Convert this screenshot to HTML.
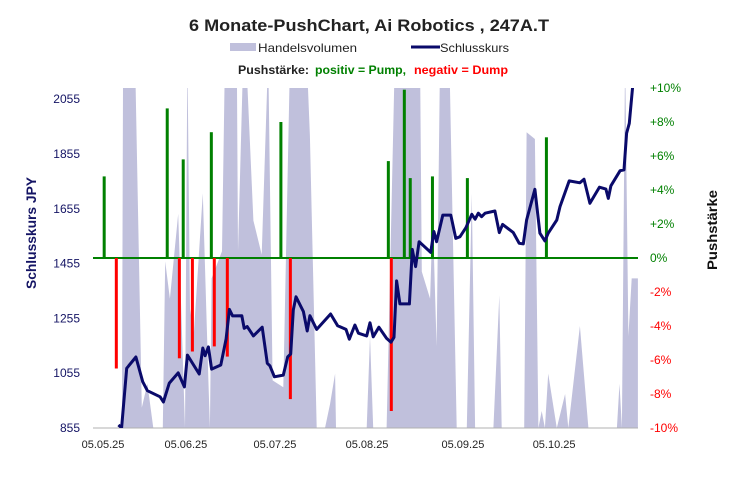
<!DOCTYPE html>
<html><head><meta charset="utf-8"><style>
html,body{margin:0;padding:0;background:#fff;}
svg{display:block;font-family:"Liberation Sans",sans-serif;}
</style></head><body>
<svg id="chart" width="734" height="480" viewBox="0 0 734 480">
<text x="369" y="31" text-anchor="middle" font-size="17" font-weight="bold" fill="#222" textLength="360" lengthAdjust="spacingAndGlyphs">6 Monate-PushChart,  Ai Robotics , 247A.T</text>
<g>
<rect x="230" y="43" width="26" height="8" fill="#c0c0dc"/>
<text x="258" y="52" font-size="12" fill="#222" textLength="99" lengthAdjust="spacingAndGlyphs">Handelsvolumen</text>
<line x1="411" y1="47" x2="440" y2="47" stroke="#0a0a6a" stroke-width="3"/>
<text x="440" y="52" font-size="12" fill="#222" textLength="69" lengthAdjust="spacingAndGlyphs">Schlusskurs</text>
<text x="238" y="74" font-size="12" font-weight="bold" fill="#222" textLength="71" lengthAdjust="spacingAndGlyphs">Pushstärke:</text>
<text x="315" y="74" font-size="12" font-weight="bold" fill="#008000" textLength="91" lengthAdjust="spacingAndGlyphs">positiv = Pump,</text>
<text x="414" y="74" font-size="12" font-weight="bold" fill="#ff0000" textLength="94" lengthAdjust="spacingAndGlyphs">negativ = Dump</text>
</g>
<defs><clipPath id="plotclip"><rect x="93" y="88" width="545" height="340"/></clipPath></defs>
<g id="vol" clip-path="url(#plotclip)"></g>
<g id="axes"></g>
<g id="bars"></g>
<g id="line" clip-path="url(#plotclip)"></g>
<text transform="translate(36,233) rotate(-90)" text-anchor="middle" font-size="14" font-weight="bold" fill="#141464" textLength="112" lengthAdjust="spacingAndGlyphs">Schlusskurs JPY</text>
<text transform="translate(717,230) rotate(-90)" text-anchor="middle" font-size="14" font-weight="bold" fill="#111" textLength="80" lengthAdjust="spacingAndGlyphs">Pushstärke</text>
</svg>
<script>
// x-axis: day offset from 05.05.25
const priceDays=[5.2,6.3,8.0,11.1,13.4,15.0,19.3,20.4,22.4,25.4,27.5,28.5,32.5,33.7,34.5,35.6,36.7,39.8,41.6,42.7,43.8,46.9,47.7,48.7,50.8,53.8,55.5,56.4,57.9,60.9,62.4,63.4,64.3,65.2,67.7,69.0,69.9,72.2,76.9,79.3,82.1,83.2,85.1,86.3,89.1,90.2,91.3,93.2,95.8,97.3,98.3,99.2,100.3,103.5,104.5,105.6,106.8,110.7,111.8,112.7,114.8,117.5,119.2,120.6,122.6,124.6,125.7,126.8,127.9,129.1,132.4,133.9,135.0,138.6,140.6,142.0,143.1,145.9,147.6,149.3,150.4,153.3,154.4,157.5,161.1,162.5,164.5,167.7,169.9,170.7,171.6,174.7,176.0,176.9,177.8,178.9,179.5];
const priceValues=[866,856,1073,1114,1024,991,969,950,1019,1056,1005,1121,1052,1147,1119,1151,1070,1085,1180,1288,1264,1265,1219,1225,1191,1223,1091,1082,1042,1048,1115,1125,1286,1334,1280,1209,1265,1215,1271,1228,1215,1179,1231,1201,1191,1239,1188,1223,1182,1168,1186,1392,1308,1308,1507,1444,1535,1496,1572,1535,1632,1632,1547,1553,1586,1635,1617,1639,1626,1639,1647,1568,1598,1568,1529,1527,1614,1726,1566,1538,1566,1614,1663,1757,1750,1763,1675,1734,1727,1693,1739,1794,1797,1931,1967,2095,2140];
const volDays=[6.4,6.8,10.8,13.1,15.0,17.0,20.2,21.0,22.6,25.4,27.7,28.5,29.4,30.7,33.7,35.6,36.1,36.7,40.2,41.2,45.2,45.6,47.4,48.3,50.8,53.6,55.8,57.3,60.9,63.2,68.8,69.9,72.2,75.0,76.7,78.4,78.7,89.1,90.2,91.3,95.8,98.6,107.1,107.7,110.5,111.4,112.7,113.9,117.0,119.5,122.9,124.6,125.7,131.9,133.9,134.7,142.3,143.1,145.9,147.1,148.2,149.3,150.4,153.3,156.1,157.2,161.1,164.0,173.6,174.5,175.3,176.4,177.5,178.6,180.7];
const volValues=[0,110,110,6,13,0,0,49,38,63,0,110,35,28,69,14,0,44,52,110,110,52,110,110,61,51,110,14,12,110,110,86,0,0,7,16,0,0,27,0,0,110,110,46,38,63,24,110,110,0,0,69,0,0,39,0,0,87,85,0,5,0,16,0,10,0,30,0,0,13,0,110,27,44,44];
const pushDays=[0.4,4.5,21.7,25.8,27.1,30.2,36.6,37.6,42.0,60.1,63.3,96.4,97.4,101.8,103.8,111.3,123.1,149.8];
const pushValues=[4.8,-6.5,8.8,-5.9,5.8,-5.5,7.4,-5.2,-5.8,8.0,-8.3,5.7,-9.0,9.9,4.7,4.8,4.7,7.1];
const priceTicks=[855,1055,1255,1455,1655,1855,2055];
const pushTicks=[-10,-8,-6,-4,-2,0,2,4,6,8,10];
const dateTickDays=[0,28,58.1,89.2,121.6,152.4];
const dateTickLabels=["05.05.25","05.06.25","05.07.25","05.08.25","05.09.25","05.10.25"];

const NS="http://www.w3.org/2000/svg";
const X0=93,X1=638,YT=88,YB=428;
function xS(d){return 103+d*2.96;}
function yP(v){return 428-(v-855)*54.8/200;}
function yPush(p){return 258-p*17;}
function yV(v){return YB-v*3.4;}
function mk(tag,attrs,parent){const e=document.createElementNS(NS,tag);for(const k in attrs)e.setAttribute(k,attrs[k]);parent.appendChild(e);return e;}

// volume area
const vg=document.getElementById('vol');
let d="M"+xS(volDays[0])+","+YB;
for(let i=0;i<volDays.length;i++)d+=" L"+xS(volDays[i]).toFixed(1)+","+yV(volValues[i]).toFixed(1);
d+=" L"+xS(volDays[volDays.length-1]).toFixed(1)+","+YB+" Z";
const va=mk('path',{d:d,fill:'#c0c0dc'},vg);



// axes
const ag=document.getElementById('axes');
const bl=mk('line',{x1:X0,y1:YB,x2:X1,y2:YB,stroke:'#b0b0b0','stroke-width':1},ag);


priceTicks.forEach(v=>{
  const t=mk('text',{x:80,y:yP(v)+4,'text-anchor':'end','font-size':12,fill:'#141464'},ag);
  t.textContent=v;
  
  
});
pushTicks.forEach(p=>{
  const t=mk('text',{x:650,y:yPush(p)+4,'font-size':12,fill:p<0?'#ff0000':'#008000'},ag);
  t.textContent=(p>0?'+':'')+p+'%';
  
  
});
dateTickDays.forEach((dd,i)=>{
  const t=mk('text',{x:xS(dd),y:448,'text-anchor':'middle','font-size':11,fill:'#222'},ag);
  t.textContent=dateTickLabels[i];
  
  
});
const zl=mk('line',{x1:X0,y1:yPush(0),x2:X1,y2:yPush(0),stroke:'#008000','stroke-width':2},ag);



// push bars
const bg=document.getElementById('bars');
pushDays.forEach((dd,i)=>{
  const p=pushValues[i];
  const y0=yPush(0),y1=yPush(p);
  const r=mk('rect',{x:xS(dd)-1.5,y:Math.min(y0,y1),width:3,height:Math.abs(y1-y0),fill:p<0?'#ff0000':'#008000'},bg);
  
  
});

// price line
const lg=document.getElementById('line');
const pts=priceDays.map((dd,i)=>xS(dd).toFixed(1)+","+yP(priceValues[i]).toFixed(1)).join(" ");
const pl=mk('polyline',{points:pts,fill:'none',stroke:'#0a0a6a','stroke-width':3,'stroke-linejoin':'round'},lg);


</script>
</body></html>
